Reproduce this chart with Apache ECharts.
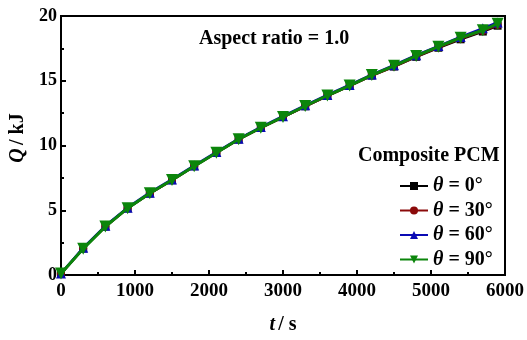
<!DOCTYPE html>
<html>
<head>
<meta charset="utf-8">
<script src="https://cdn.jsdelivr.net/npm/echarts@6/dist/echarts.min.js"></script>
<style>
html,body{margin:0;padding:0;background:#fff;}
#chart{width:527px;height:340px;}
</style>
</head>
<body>
<div id="chart"></div>
<script>
const timeS = [0, 300, 600, 900, 1200, 1500, 1800, 2100, 2400, 2700, 3000, 3300, 3600, 3900, 4200, 4500, 4800, 5100, 5400, 5700, 5900];
const q0 = [0.1, 2.05, 3.75, 5.15, 6.3, 7.32, 8.4, 9.44, 10.47, 11.36, 12.2, 13.03, 13.84, 14.6, 15.4, 16.1, 16.85, 17.55, 18.2, 18.8, 19.25];
const q30 = [0.1, 2.05, 3.75, 5.15, 6.3, 7.32, 8.4, 9.44, 10.47, 11.36, 12.2, 13.03, 13.84, 14.6, 15.4, 16.1, 16.87, 17.58, 18.25, 18.85, 19.3];
const q60 = [0.12, 2.1, 3.8, 5.2, 6.36, 7.38, 8.45, 9.5, 10.52, 11.42, 12.26, 13.1, 13.9, 14.68, 15.48, 16.2, 16.97, 17.68, 18.38, 19.05, 19.5];
const q90 = [0.12, 2.03, 3.74, 5.16, 6.31, 7.33, 8.4, 9.44, 10.48, 11.37, 12.21, 13.05, 13.86, 14.63, 15.44, 16.15, 16.92, 17.63, 18.32, 18.9, 19.41];
const xTicks = [0, 1000, 2000, 3000, 4000, 5000, 6000];
const yTicks = [0, 5, 10, 15, 20];
const seriesNames = ['θ = 0°', 'θ = 30°', 'θ = 60°', 'θ = 90°'];

const FONT = '"Liberation Serif", "Times New Roman", serif';
const pair = arr => timeS.map((t, i) => [t, arr[i]]);

const chart = echarts.init(document.getElementById('chart'));
const styles = [
  {data: q0, color: '#000000', symbol: 'rect', size: 8, rot: 0},
  {data: q30, color: '#8b0a0a', symbol: 'circle', size: 8, rot: 0},
  {data: q60, color: '#0a0ab4', symbol: 'triangle', size: 10, rot: 0},
  {data: q90, color: '#0b850b', symbol: 'triangle', size: 12, rot: 180}
];

chart.setOption({
  animation: false,
  backgroundColor: '#fff',
  grid: {left: 61, right: 20, top: 16, bottom: 62, show: true, borderColor: '#000', borderWidth: 2},
  xAxis: {
    type: 'value', min: 0, max: 6000, interval: 1000,
    name: '{i|t} {b|/ s}', nameLocation: 'middle', nameGap: 40,
    nameTextStyle: {rich: {
      i: {fontFamily: FONT, fontSize: 20, fontWeight: 'bold', fontStyle: 'italic', color: '#000'},
      b: {fontFamily: FONT, fontSize: 20, fontWeight: 'bold', color: '#000'}
    }},
    axisLine: {show: true, lineStyle: {color: '#000', width: 2}},
    axisTick: {show: true, inside: true, length: 5, lineStyle: {width: 2}},
    minorTick: {show: true, splitNumber: 2, length: 3, lineStyle: {color: '#000', width: 2}},
    splitLine: {show: false},
    axisLabel: {fontFamily: FONT, fontSize: 19, fontWeight: 'bold', color: '#000', margin: 7,
      formatter: v => xTicks.includes(v) ? String(v) : ''}
  },
  yAxis: {
    type: 'value', min: 0, max: 20, interval: 5,
    axisLine: {show: true, lineStyle: {color: '#000', width: 2}},
    axisTick: {show: true, inside: true, length: 5, lineStyle: {width: 2}},
    minorTick: {show: true, splitNumber: 2, length: 3, lineStyle: {color: '#000', width: 2}},
    splitLine: {show: false},
    axisLabel: {fontFamily: FONT, fontSize: 18, fontWeight: 'bold', color: '#000', margin: 4,
      formatter: v => yTicks.includes(v) ? String(v) : ''}
  },
  legend: {
    orient: 'vertical', left: 394, top: 171,
    itemWidth: 28, itemHeight: 10, itemGap: 4.5,
    data: seriesNames,
    formatter: n => '{i|θ}{b|' + n.slice(1) + '}',
    textStyle: {rich: {
      i: {fontFamily: FONT, fontSize: 20, fontWeight: 'bold', fontStyle: 'italic', color: '#000', lineHeight: 20},
      b: {fontFamily: FONT, fontSize: 20, fontWeight: 'bold', color: '#000', lineHeight: 20}
    }}
  },
  graphic: [
    {type: 'text', left: 358, top: 146, style: {text: 'Composite PCM', font: 'bold 20px ' + FONT, fill: '#000'}},
    {type: 'text', left: 199, top: 29, style: {text: 'Aspect ratio = 1.0', font: 'bold 20px ' + FONT, fill: '#000'}},
    {type: 'text', x: 18, y: 138, rotation: Math.PI / 2,
      style: {text: '{i|Q} {b|/ kJ}', align: 'center', verticalAlign: 'middle',
        rich: {
          i: {fontFamily: FONT, fontSize: 20, fontWeight: 'bold', fontStyle: 'italic', fill: '#000'},
          b: {fontFamily: FONT, fontSize: 20, fontWeight: 'bold', fill: '#000'}
        }}}
  ],
  series: styles.map((s, k) => ({
    name: seriesNames[k], type: 'line', data: pair(s.data),
    symbol: s.symbol, symbolSize: s.size, symbolRotate: s.rot,
    showAllSymbol: true,
    lineStyle: {color: s.color, width: k === 3 ? 3 : 2.5},
    itemStyle: {color: s.color},
    z: 2 + k
  }))
});
</script>
</body>
</html>
